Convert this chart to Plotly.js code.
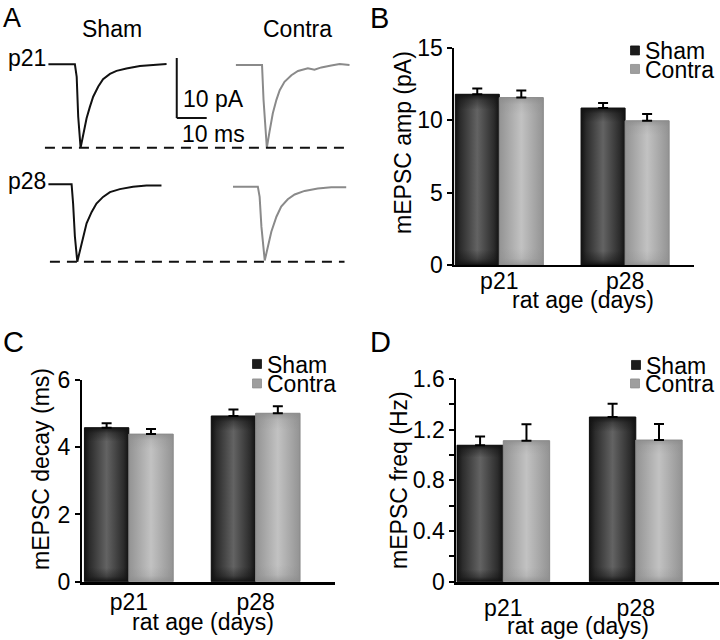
<!DOCTYPE html>
<html><head><meta charset="utf-8">
<script src="https://cdn.plot.ly/plotly-3.0.1.min.js"></script>
<style>body{margin:0;background:#fff}#chart{width:720px;height:640px}</style>
</head><body><div id="chart"></div>
<script>
// ---------- data ----------
const ages = ['p21', 'p28'];
const groupNames = ['Sham', 'Contra'];
const xTitle = 'rat age (days)';
// B: mEPSC amplitude (pA)
const ampSham = [11.8, 10.85];
const ampShamErr = [0.4, 0.35];
const ampContra = [11.57, 9.97];
const ampContraErr = [0.5, 0.47];
// C: mEPSC decay (ms)
const decaySham = [4.58, 4.93];
const decayShamErr = [0.13, 0.19];
const decayContra = [4.39, 5.01];
const decayContraErr = [0.15, 0.21];
// D: mEPSC frequency (Hz)
const freqSham = [1.077, 1.30];
const freqShamErr = [0.07, 0.105];
const freqContra = [1.113, 1.118];
const freqContraErr = [0.13, 0.127];
// A: example mEPSC traces (time ms, current pA relative to baseline)
const shamP21T = [0, 3.9, 8.9, 9.5, 10.0, 10.8, 11.7, 12.8, 13.9, 15.0, 16.7, 18.3, 20.6, 22.8, 26.1, 30.6, 35.0, 39.5];
const shamP21I = [0, 0.05, 0, -2.1, -8.7, -13.9, -11.5, -9.0, -7.1, -5.4, -3.7, -2.5, -1.6, -1.1, -0.7, -0.3, -0.1, 0.05];
const contraP21T = [0, 4.7, 8.8, 9.3, 10.4, 11.3, 12.4, 13.6, 14.7, 16.3, 18.6, 20.8, 24.1, 26.3, 28.6, 31.9, 34.7, 38.0];
const contraP21I = [0, 0.05, 0, -5.8, -13.8, -11.1, -8.05, -5.8, -4.2, -2.8, -1.7, -1.0, -0.55, -0.8, -0.4, -0.1, 0.15, 0];
const shamP28T = [0, 3.9, 7.8, 8.3, 8.9, 9.7, 10.6, 11.7, 12.8, 14.5, 16.1, 18.3, 20.6, 23.9, 28.3, 32.8, 37.8];
const shamP28I = [0, 0, 0, -3.2, -8.7, -12.9, -10.95, -8.45, -6.5, -4.6, -3.2, -2.1, -1.3, -0.8, -0.4, -0.2, -0.2];
const contraP28T = [0, 3.9, 8.3, 8.9, 9.5, 10.6, 11.7, 12.8, 14.5, 16.1, 18.3, 20.6, 23.9, 28.3, 32.8, 37.8];
const contraP28I = [0, 0, 0, -1.7, -6.7, -12.3, -9.7, -7.5, -5.0, -3.3, -2.1, -1.3, -0.7, -0.3, -0.1, -0.1];

// ---------- layout helpers ----------
const W = 720, H = 640;
const px = x => x / W;
const py = y => 1 - y / H;
const FONT = 'Liberation Sans, Arial, Helvetica, sans-serif';
const SHAM_COLOR = '#1c1c1c', CONTRA_COLOR = '#9e9e9e';

function bar(name, x, y, err, xa, ya, leg) {
  return {
    type: 'bar', name: name, x: x, y: y, xaxis: xa, yaxis: ya, legend: leg, showlegend: true,
    marker: {color: name === 'Sham' ? SHAM_COLOR : CONTRA_COLOR,
             line: {color: name === 'Sham' ? '#0d0d0d' : '#8a8a8a', width: 1}},
    error_y: {type: 'data', symmetric: false, array: err, arrayminus: [0, 0], color: '#000', thickness: 2, width: 5},
    hoverinfo: 'skip'
  };
}
function tr(x, y, xa, ya, color) {
  return {type: 'scatter', mode: 'lines', x: x, y: y, xaxis: xa, yaxis: ya, showlegend: false,
          line: {color: color, width: 2}, hoverinfo: 'skip'};
}

const data = [
  bar(groupNames[0], ages, ampSham, ampShamErr, 'x', 'y', 'legend'),
  bar(groupNames[1], ages, ampContra, ampContraErr, 'x', 'y', 'legend4'),
  bar(groupNames[0], ages, decaySham, decayShamErr, 'x2', 'y2', 'legend2'),
  bar(groupNames[1], ages, decayContra, decayContraErr, 'x2', 'y2', 'legend5'),
  bar(groupNames[0], ages, freqSham, freqShamErr, 'x3', 'y3', 'legend3'),
  bar(groupNames[1], ages, freqContra, freqContraErr, 'x3', 'y3', 'legend6'),
  tr(shamP21T, shamP21I, 'x4', 'y4', '#111'),
  tr(contraP21T, contraP21I, 'x5', 'y5', '#8a8a8a'),
  tr(shamP28T, shamP28I, 'x6', 'y6', '#111'),
  tr(contraP28T, contraP28I, 'x7', 'y7', '#8a8a8a')
];

const tickfont = {family: FONT, size: 23, color: '#000'};
function yax(dom, range, dtick, anchor, extra) {
  return Object.assign({
    domain: [py(dom[1]), py(dom[0])], range: range, dtick: dtick, tick0: 0, anchor: anchor,
    ticks: 'outside', ticklen: 5, tickwidth: 2, tickcolor: '#000',
    showline: true, linewidth: 2, linecolor: '#000', showgrid: false, zeroline: false,
    tickfont: tickfont, fixedrange: true
  }, extra || {});
}
function xax(dom, range, anchor, lw, shift) {
  return {
    domain: [px(dom[0]), px(dom[1])], range: range, type: 'category', anchor: anchor,
    ticks: '', showline: true, linewidth: lw, linecolor: '#000', showgrid: false, zeroline: false,
    tickfont: tickfont, ticklabelstandoff: shift, fixedrange: true
  };
}
// trace axes: 3 px per ms, 6 px per pA
function traceAxes(ox, oy, xr, yr) {
  return [
    {domain: [px(ox + xr[0] * 3), px(ox + xr[1] * 3)], range: xr, visible: false, fixedrange: true},
    {domain: [py(oy - yr[0] * 6), py(oy - yr[1] * 6)], range: yr, visible: false, fixedrange: true}
  ];
}
const a4 = traceAxes(48.3, 64.3, [0, 55], [-15, 2]);
const a5 = traceAxes(236, 65, [0, 40], [-15, 2]);
const a6 = traceAxes(48.3, 184.3, [0, 40], [-15, 2]);
const a7 = traceAxes(233.3, 186.7, [0, 40], [-15, 2]);

function ann(text, x, y, size, xanchor, angle) {
  return {text: text, x: px(x), y: py(y), xref: 'paper', yref: 'paper', showarrow: false,
          xanchor: xanchor || 'left', yanchor: 'middle', textangle: angle || 0,
          font: {family: FONT, size: size, color: '#000'}};
}
function legendAt(x, y) {
  return {x: px(x), y: py(y), xanchor: 'left', yanchor: 'top', bgcolor: 'rgba(0,0,0,0)',
          font: {family: FONT, size: 23, color: '#000'}, tracegroupgap: 0};
}

const layout = {
  width: W, height: H, margin: {l: 0, r: 0, t: 0, b: 0},
  paper_bgcolor: '#fff', plot_bgcolor: 'rgba(0,0,0,0)',
  barmode: 'group', bargap: 0.3, bargroupgap: 0,
  font: {family: FONT, color: '#000'},
  xaxis: xax([455, 695], [-0.357, 1.548], 'y', 2, -6),
  yaxis: yax([48, 265], [0, 15], 5, 'x'),
  xaxis2: xax([82, 335], [-0.37, 1.622], 'y2', 3, -2),
  yaxis2: yax([380, 581.7], [0, 6], 2, 'x2'),
  xaxis3: xax([457, 720], [-0.354, 1.628], 'y3', 3, 4),
  yaxis3: yax([379, 581.7], [0, 1.6], 0.4, 'x3',
              {minor: {dtick: 0.2, ticks: 'outside', ticklen: 5, tickwidth: 2, tickcolor: '#000', showgrid: false}}),
  xaxis4: Object.assign(a4[0], {anchor: 'y4'}), yaxis4: Object.assign(a4[1], {anchor: 'x4'}),
  xaxis5: Object.assign(a5[0], {anchor: 'y5'}), yaxis5: Object.assign(a5[1], {anchor: 'x5'}),
  xaxis6: Object.assign(a6[0], {anchor: 'y6'}), yaxis6: Object.assign(a6[1], {anchor: 'x6'}),
  xaxis7: Object.assign(a7[0], {anchor: 'y7'}), yaxis7: Object.assign(a7[1], {anchor: 'x7'}),
  legend: legendAt(605, 29),
  legend4: legendAt(605, 47.5),
  legend2: legendAt(227, 342.5),
  legend5: legendAt(227, 362),
  legend3: legendAt(606, 343.5),
  legend6: legendAt(606, 362),
  shapes: [
    {type: 'line', xref: 'paper', yref: 'y4', x0: px(45), x1: px(345), y0: Math.min(...shamP21I), y1: Math.min(...shamP21I),
     line: {color: '#111', width: 2, dash: '10px,7px'}},
    {type: 'line', xref: 'paper', yref: 'y6', x0: px(50), x1: px(345), y0: Math.min(...shamP28I), y1: Math.min(...shamP28I),
     line: {color: '#111', width: 2, dash: '10px,7px'}},
    // scale bar 10 pA / 10 ms
    {type: 'line', xref: 'x4', yref: 'y4', x0: 42.9, x1: 42.9, y0: -8.95, y1: 1.05, line: {color: '#111', width: 2}},
    {type: 'line', xref: 'x4', yref: 'y4', x0: 42.9, x1: 52.9, y0: -8.95, y1: -8.95, line: {color: '#111', width: 2}}
  ],
  annotations: [
    ann('A', 1, 18, 27), ann('B', 369, 18, 29), ann('C', 1, 342, 29), ann('D', 369, 342, 29),
    ann(groupNames[0], 112, 29, 23, 'center'), ann(groupNames[1], 298, 29, 23, 'center'),
    ann(ages[0], 6, 58, 23), ann(ages[1], 6, 181, 23),
    ann('10 pA', 181, 99, 23), ann('10 ms', 180, 134, 23),
    // axis titles
    ann('mEPSC amp (pA)', 403, 142.5, 23, 'center', -90),
    ann('mEPSC decay (ms)', 41, 469, 23, 'center', -90),
    ann('mEPSC freq (Hz)', 399, 479.5, 23, 'center', -90),
    ann(xTitle, 584, 300, 23, 'center'),
    ann(xTitle, 203, 622, 23, 'center'),
    ann(xTitle, 579, 626, 23, 'center')
  ]
};

Plotly.newPlot('chart', data, layout, {staticPlot: true}).then(decorate);

function decorate(gd) {
  const ns = 'http://www.w3.org/2000/svg';
  const svg = gd.querySelector('svg.main-svg');
  let defs = svg.querySelector('defs');
  if (!defs) { defs = document.createElementNS(ns, 'defs'); svg.insertBefore(defs, svg.firstChild); }
  function lin(id, horiz, stops) {
    const g = document.createElementNS(ns, 'linearGradient');
    g.setAttribute('id', id);
    g.setAttribute('x1', '0'); g.setAttribute('y1', '0');
    g.setAttribute('x2', horiz ? '1' : '0'); g.setAttribute('y2', horiz ? '0' : '1');
    stops.forEach(s => {
      const st = document.createElementNS(ns, 'stop');
      st.setAttribute('offset', s[0]); st.setAttribute('stop-color', s[1]);
      st.setAttribute('stop-opacity', s.length > 2 ? s[2] : 1);
      g.appendChild(st);
    });
    defs.appendChild(g);
  }
  lin('hSham', true, [[0, '#111'], [0.12, '#2c2c2c'], [0.5, '#636363'], [0.88, '#2c2c2c'], [1, '#111']]);
  lin('vSham', false, [[0, '#111', 0.95], [0.035, '#111', 0.4], [0.09, '#111', 0], [0.91, '#111', 0], [0.965, '#111', 0.4], [1, '#111', 0.95]]);
  lin('hContra', true, [[0, '#939393'], [0.5, '#c2c2c2'], [1, '#939393']]);
  lin('vContra', false, [[0, '#8a8a8a', 0.7], [0.04, '#8a8a8a', 0.2], [0.1, '#8a8a8a', 0], [0.9, '#8a8a8a', 0], [0.96, '#8a8a8a', 0.2], [1, '#8a8a8a', 0.7]]);
  gd.querySelectorAll('.barlayer .trace').forEach(t => {
    const d = t.__data__;
    const name = d && d[0] && d[0].trace ? d[0].trace.name : 'Sham';
    const key = name === 'Sham' ? 'Sham' : 'Contra';
    t.querySelectorAll('.point path').forEach(p => {
      p.style.fill = 'url(#h' + key + ')';
      const c = p.cloneNode(true);
      c.style.fill = 'url(#v' + key + ')';
      c.style.stroke = 'none';
      p.parentNode.insertBefore(c, p.nextSibling);
    });
  });
  // smaller legend squares, set close to the label text as in the original figure
  gd.querySelectorAll('.legendpoints path').forEach(p => {
    let b;
    try { b = p.getBBox(); } catch (e) { return; }
    if (!b || !b.width) return;
    const cx = b.x + b.width / 2, cy = b.y + b.height / 2, s = 0.75, dx = 15;
    const prev = p.getAttribute('transform') || '';
    p.setAttribute('transform', 'translate(' + (cx + dx) + ',' + cy + ') scale(' + s + ') translate(' + (-cx) + ',' + (-cy) + ') ' + prev);
  });
}
</script>
</body></html>
